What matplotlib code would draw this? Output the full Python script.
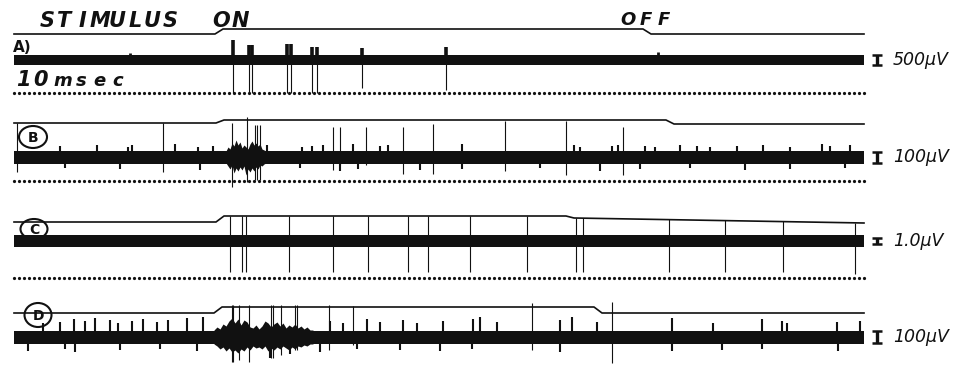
### OSCILLOSCOPE TRACES: STIMULUS ON / OFF, FOUR RECORDINGS A-D
import numpy as np
import matplotlib.pyplot as plt
from matplotlib.patches import Ellipse

### DATA (time in msec, amplitudes in trace units, + is up) ###
t_end = 1700
ramp = 16

scale_text = ['500\u00b5V', '100\u00b5V', '1.0\u00b5V', '100\u00b5V']
scale_bar = [10, 11, 6, 12]

# stimulus marker per trace
stim_on = [402, 404, 404, 400]
stim_off = [1258, 1304, 1104, 1160]
stim_before = [26, 34, 19, 24]
stim_during = [31, 37, 25, 30]
stim_after = [26, 33, 23, 24]
stim_last = [26, 33, 18, 24]

# trace A
a_t = [438, 470, 476, 546, 554, 596, 606, 696, 864]
a_up = [20, 15, 15, 16, 16, 13, 13, 12, 13]
a_dn = [33, 33, 33, 33, 33, 33, 33, 28, 30]
a_bump_t = [232, 352, 1288]
a_bump_up = [7, 4, 8]

# trace B
b_t = [6, 298, 436, 466, 482, 486, 492, 638, 652, 704, 778, 838, 982, 1104, 1218]
b_up = [34, 34, 34, 40, 32, 32, 32, 30, 30, 30, 30, 33, 36, 36, 30]
b_dn = [15, 15, 30, 25, 23, 23, 23, 13, 8, 8, 17, 17, 14, 18, 18]
b_tick_t = [92, 166, 228, 236, 322, 368, 398, 506, 576, 596, 618, 678, 732, 748, 896,
            1120, 1132, 1196, 1208, 1262, 1282, 1332, 1366, 1392, 1446, 1498, 1552,
            1616, 1632, 1672]
b_tick_up = [11, 12, 10, 12, 13, 10, 11, 12, 10, 11, 12, 13, 11, 12, 13,
             12, 10, 11, 12, 11, 10, 12, 11, 10, 11, 12, 10, 13, 11, 12]
b_low_t = [102, 212, 372, 572, 652, 688, 812, 896, 1052, 1172, 1252, 1352, 1462, 1552, 1662]
b_low_dn = [11, 12, 13, 11, 14, 12, 13, 12, 11, 14, 12, 11, 13, 12, 11]
b_burst_t = [424, 428, 432, 436, 440, 444, 448, 452, 456, 460, 464, 468, 472, 476, 480,
             484, 488, 492, 496, 500, 504]
b_burst_up = [6, 10, 8, 14, 11, 17, 12, 15, 9, 12, 10, 8, 13, 16, 12, 14, 11, 13, 8, 7, 6]
b_burst_dn = [6, 9, 12, 8, 16, 11, 14, 10, 13, 9, 18, 12, 15, 11, 14, 10, 12, 8, 9, 7, 6]

# trace C
c_t = [432, 456, 464, 550, 638, 708, 788, 828, 912, 1026, 1124, 1138, 1310, 1422, 1538, 1682]
c_up = [25, 25, 25, 25, 25, 25, 25, 25, 25, 25, 23, 23, 22, 21, 20, 18]
c_dn = [31, 31, 31, 31, 31, 31, 31, 31, 31, 31, 31, 31, 31, 31, 31, 33]

# trace D
d_t = [436, 438, 450, 470, 514, 518, 534, 562, 566, 630, 678, 1036, 1196]
d_up = [32, 32, 32, 32, 32, 32, 32, 32, 32, 32, 31, 34, 35]
d_dn = [25, 25, 23, 25, 21, 21, 18, 13, 13, 13, 8, 13, 26]
d_tick_t = [58, 92, 120, 142, 162, 192, 208, 236, 258, 286, 308, 346, 378, 632, 658, 706,
            732, 778, 806, 858, 918, 932, 966, 1092, 1116, 1166, 1316, 1398, 1496, 1536,
            1546, 1646, 1692]
d_tick_up = [14, 15, 18, 16, 19, 17, 14, 16, 18, 15, 17, 19, 20, 16, 14, 18,
             15, 17, 14, 16, 18, 20, 15, 17, 20, 15, 19, 14, 18, 16, 14, 15, 16]
d_low_t = [28, 102, 122, 212, 292, 366, 512, 552, 612, 686, 772, 852, 916, 1092, 1316,
           1416, 1496, 1648]
d_low_dn = [14, 12, 15, 13, 12, 14, 21, 17, 15, 12, 13, 14, 12, 15, 14, 13, 12, 14]
d_burst_t = [400, 406, 412, 418, 424, 430, 436, 442, 448, 454, 460, 466, 472, 478, 484,
             490, 496, 502, 508, 514, 520, 526, 532, 538, 544, 550, 556, 562, 568, 574,
             580, 586, 592, 598]
d_burst_up = [7, 10, 8, 13, 11, 16, 19, 14, 18, 12, 17, 15, 10, 9, 12, 8, 11, 16, 14, 10,
              13, 15, 11, 14, 9, 12, 10, 13, 9, 11, 8, 10, 7, 7]
d_burst_dn = [7, 9, 12, 10, 14, 11, 15, 13, 16, 12, 14, 10, 13, 9, 11, 10, 12, 9, 14, 11,
              13, 10, 12, 9, 11, 13, 10, 12, 9, 10, 8, 9, 7, 7]

### LAYOUT ###
row_y = [60, 157, 241, 337]
band_half = [5, 6.5, 6, 6.5]
dots_y = [93, 181, 278]
ink = '#111111'

fig = plt.figure(figsize=(9.76, 3.65), dpi=100)
ax = fig.add_axes([0, 0, 1, 1])
ax.set_xlim(-28, 1924)
ax.set_ylim(365, 0)
ax.axis('off')


### FUNCTIONS ###
# stimulus marker line above a trace
def stim_line(i):
    y0 = row_y[i]
    tx = [0, stim_on[i], stim_on[i] + ramp, stim_off[i], stim_off[i] + ramp, t_end]
    ty = [stim_before[i], stim_before[i], stim_during[i], stim_during[i],
          stim_after[i], stim_last[i]]
    ax.plot(tx, y0 - np.array(ty), color=ink, lw=1.2)


# thick baseline band with spikes
def trace(i, t, up, dn, lw=0.8):
    y0 = row_y[i]
    h = band_half[i]
    ax.fill_between([0, t_end], y0 - h, y0 + h, color=ink, lw=0)
    ax.vlines(t, y0 - np.array(up), y0 + np.array(dn), color=ink, lw=lw)


def ticks_up(i, t, up, lw=1.5):
    y0 = row_y[i]
    ax.vlines(t, y0 - np.array(up), y0, color=ink, lw=lw)


def ticks_down(i, t, dn, lw=1.5):
    y0 = row_y[i]
    ax.vlines(t, y0, y0 + np.array(dn), color=ink, lw=lw)


def burst(i, t, up, dn):
    y0 = row_y[i]
    ax.fill_between(t, y0 - np.array(up), y0 + np.array(dn), color=ink, lw=0)


def dotted(y):
    td = np.arange(0, t_end + 1, 10)
    ax.plot(td, np.full(len(td), y), ls='none', marker='o', ms=1.3, color=ink)


# letters spread evenly between two pixel columns
def spread(s, x0, x1, y, size):
    xs = 2 * (np.linspace(x0, x1, len(s)) - 14)
    for ch, x in zip(s, xs):
        ax.text(x, y, ch, fontsize=size, fontweight='bold', style='italic',
                ha='center', va='center', color=ink)


### DRAW ###
for i in range(4):
    stim_line(i)

trace(0, a_t, a_up, [0] * len(a_t), lw=2.6)
trace(0, a_t, [0] * len(a_t), a_dn)
ticks_up(0, a_bump_t, a_bump_up, lw=2)

trace(1, b_t, b_up, b_dn)
ticks_up(1, b_tick_t, b_tick_up)
ticks_down(1, b_low_t, b_low_dn)
burst(1, b_burst_t, b_burst_up, b_burst_dn)

trace(2, c_t, c_up, c_dn)

trace(3, d_t, d_up, d_dn)
ticks_up(3, d_tick_t, d_tick_up)
ticks_down(3, d_low_t, d_low_dn)
burst(3, d_burst_t, d_burst_up, d_burst_dn)

for y in dots_y:
    dotted(y)

# calibration bars and labels
for i in range(4):
    ax.errorbar(1726, row_y[i], yerr=scale_bar[i] / 2, fmt='none', ecolor=ink,
                elinewidth=2.4, capsize=3.5, capthick=1.8)
    ax.text(1758, row_y[i], scale_text[i], fontsize=12.5, style='italic',
            ha='left', va='center', color=ink)

# headers
spread('STIMULUS', 47, 170, 21, 15)
spread('ON', 221, 240, 21, 15)
spread('OFF', 628, 664, 20, 13)
spread('10', 23, 40, 80, 15)
spread('msec', 63, 118, 81, 13)

# trace labels
ax.text(-2, 47, 'A)', fontsize=11, fontweight='bold', ha='left', va='center', color=ink)
for t0, y, lab, w, hgt in [(38, 137, 'B', 28, 22), (40, 229, 'C', 27, 20), (48, 315, 'D', 27, 24)]:
    ax.add_patch(Ellipse((t0, y), w * 2, hgt, fill=False, ec=ink, lw=1.5))
    ax.text(t0, y + 1, lab, fontsize=10, fontweight='bold', ha='center', va='center', color=ink)

fig.savefig('out.png', dpi=100, facecolor='white')
